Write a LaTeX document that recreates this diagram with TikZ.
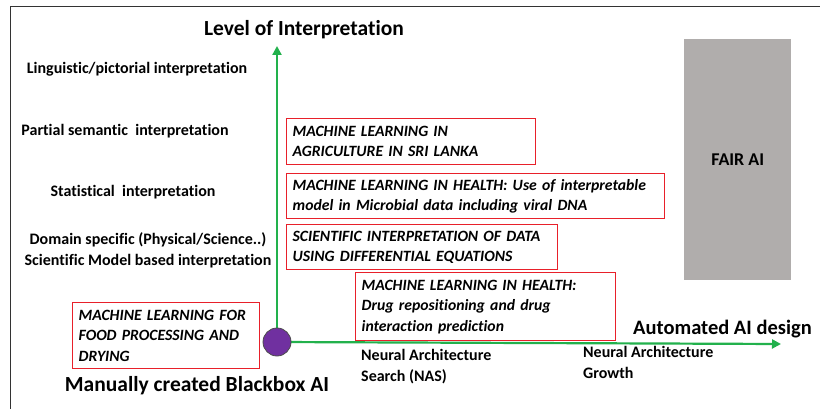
\documentclass[tikz,border=0pt]{standalone}
\usepackage{fontspec}
\setmainfont{Carlito}[Ligatures=NoCommon]
\usetikzlibrary{arrows.meta}
\definecolor{axgreen}{HTML}{22B14C}
\definecolor{boxred}{HTML}{E8202A}
\definecolor{dotpurple}{HTML}{7030A0}
\definecolor{fairgray}{HTML}{B0ADAC}
\tikzset{
  lvl/.style={font=\bfseries\fontsize{16}{21}\selectfont, align=center, inner sep=0pt},
  redbox/.style={draw=boxred, line width=1.3pt, anchor=north west, align=left,
    inner xsep=6pt, inner ysep=0pt, font=\bfseries\itshape\fontsize{15.7}{20.5}\selectfont},
  small/.style={font=\bfseries\fontsize{16}{21}\selectfont, align=left, anchor=north west, inner sep=0pt},
  big/.style={font=\bfseries\fontsize{21.5}{24}\selectfont, inner sep=0pt},
  axis/.style={draw=axgreen, line width=2.2pt, -{Triangle[length=9pt,width=9pt]}}
}
\begin{document}
\begin{tikzpicture}[x=1pt,y=-1pt]
\useasboundingbox (0,0) rectangle (820,409);
\fill[white] (0,0) rectangle (820,409);
\draw[line width=1pt, black!80] (10,409) -- (10,7) -- (820,7);
% FAIR AI
\node[fill=fairgray, minimum width=107pt, minimum height=241pt, anchor=north west, inner sep=0pt,
  font=\bfseries\fontsize{18}{22}\selectfont] (fair) at (684,39) {FAIR AI};
% axes
\coordinate (o) at (277,342);
\coordinate (ytip) at (277,46);
\coordinate (xtip) at (781,344);
\draw[axis] (o) -- (ytip);
\draw[axis] (o) -- (xtip);
\node[draw=black!70, fill=dotpurple, circle, minimum size=28pt, inner sep=0pt, line width=0.8pt] (origin) at (o) {};
% titles
\node[big] (ytitle) at (304,30) {Level of Interpretation};
\node[big, anchor=west, font=\bfseries\fontsize{20.5}{24}\selectfont] (xtitle) at (633,329) {Automated AI design};
\node[big] (btitle) at (197,386) {Manually created Blackbox AI};
% level labels
\node[lvl] (l1) at (137,69) {Linguistic/pictorial interpretation};
\node[lvl] (l2) at (125,131) {Partial semantic\ \ interpretation};
\node[lvl] (l3) at (133,192) {Statistical\ \ interpretation};
\node[lvl] (l4) at (148,250) {Domain specific (Physical/Science..)\\Scientific Model based interpretation};
% boxes
\node[redbox, text width=237pt, minimum height=46pt] (b1) at (286,118) {MACHINE LEARNING IN\\AGRICULTURE IN SRI LANKA};
\node[redbox, text width=366pt, minimum height=45pt] (b2) at (286,173) {MACHINE LEARNING IN HEALTH: Use of interpretable\\model in Microbial data including viral DNA};
\node[redbox, text width=259pt, minimum height=45pt] (b3) at (286,224) {SCIENTIFIC INTERPRETATION OF DATA\\USING DIFFERENTIAL EQUATIONS};
\node[redbox, text width=248pt, minimum height=68pt] (b4) at (355,272) {MACHINE LEARNING IN HEALTH:\\Drug repositioning and drug\\interaction prediction};
\node[redbox, text width=175pt, minimum height=66pt] (b5) at (72,302) {MACHINE LEARNING FOR\\FOOD PROCESSING AND\\DRYING};
% x labels
\node[small] (nas) at (361,349) {Neural Architecture\\Search (NAS)};
\node[small] (nag) at (583,346) {Neural Architecture\\Growth};
\end{tikzpicture}
\end{document}
